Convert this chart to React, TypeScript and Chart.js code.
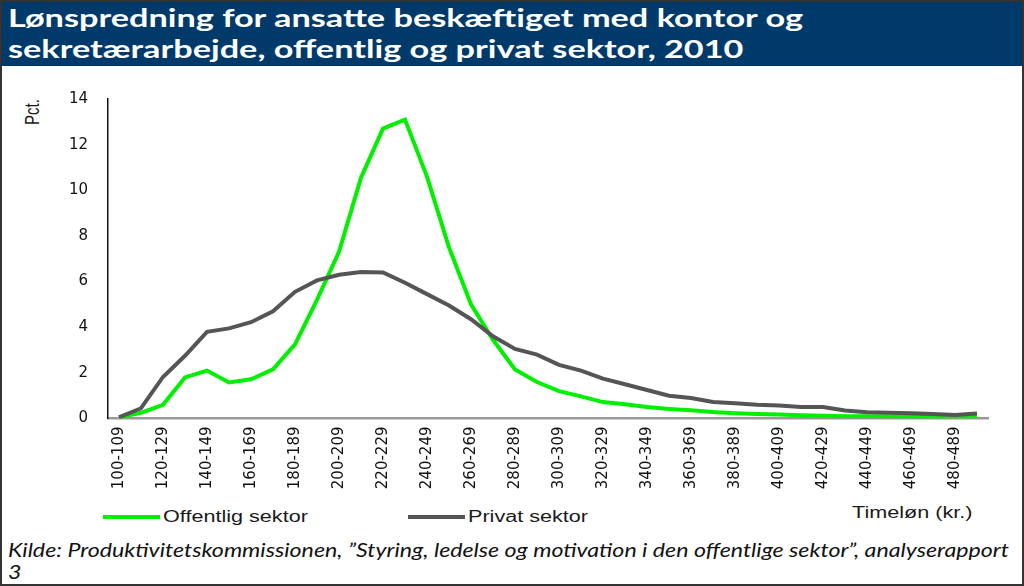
import React, { useEffect, useRef } from "react";
import { Chart, registerables } from "chart.js";

Chart.register(...registerables);

const categories: string[] = [
  "100-109", "110-119", "120-129", "130-139", "140-149", "150-159", "160-169", "170-179",
  "180-189", "190-199", "200-209", "210-219", "220-229", "230-239", "240-249", "250-259",
  "260-269", "270-279", "280-289", "290-299", "300-309", "310-319", "320-329", "330-339",
  "340-349", "350-359", "360-369", "370-379", "380-389", "390-399", "400-409", "410-419",
  "420-429", "430-439", "440-449", "450-459", "460-469", "470-479", "480-489", "490-499",
];

const offentligSektor: number[] = [
  0.05, 0.25, 0.6, 1.8, 2.1, 1.58, 1.72, 2.15, 3.25, 5.2,
  7.3, 10.55, 12.7, 13.1, 10.6, 7.5, 5.0, 3.45, 2.15, 1.6,
  1.2, 0.97, 0.72, 0.62, 0.5, 0.42, 0.36, 0.28, 0.23, 0.2,
  0.17, 0.14, 0.12, 0.1, 0.1, 0.1, 0.09, 0.09, 0.08, 0.1,
];

const privatSektor: number[] = [
  0.05, 0.45, 1.82, 2.75, 3.8, 3.95, 4.22, 4.7, 5.55, 6.05,
  6.3, 6.42, 6.4, 5.95, 5.45, 4.95, 4.35, 3.6, 3.05, 2.8,
  2.35, 2.1, 1.75, 1.5, 1.25, 1.0, 0.9, 0.72, 0.67, 0.6,
  0.57, 0.5, 0.5, 0.35, 0.27, 0.25, 0.23, 0.2, 0.15, 0.22,
];

const seriesNames: string[] = ["Offentlig sektor", "Privat sektor"];
const yTicks: number[] = [0, 2, 4, 6, 8, 10, 12, 14];

const titleLines: string[] = [
  "Lønspredning for ansatte beskæftiget med kontor og",
  "sekretærarbejde, offentlig og privat sektor, 2010",
];
const yAxisLabel = "Pct.";
const xAxisLabel = "Timeløn (kr.)";
const sourceLine1 =
  "Kilde: Produktivitetskommissionen, \u201DStyring, ledelse og motivation i den offentlige sektor\u201D, analyserapport";
const sourceLine2 = "3";

const GREEN = "#00f000";
const GRAY = "#555555";

export default function App() {
  const canvasRef = useRef<HTMLCanvasElement | null>(null);

  useEffect(() => {
    if (!canvasRef.current) return;
    const chart = new Chart(canvasRef.current, {
      type: "line",
      data: {
        labels: categories,
        datasets: [
          {
            label: seriesNames[0],
            data: offentligSektor,
            borderColor: GREEN,
            backgroundColor: GREEN,
            borderWidth: 4,
            pointRadius: 0,
            tension: 0,
            order: 1,
          },
          {
            label: seriesNames[1],
            data: privatSektor,
            borderColor: GRAY,
            backgroundColor: GRAY,
            borderWidth: 4,
            pointRadius: 0,
            tension: 0,
            order: 0,
          },
        ],
      },
      options: {
        animation: false,
        responsive: true,
        maintainAspectRatio: false,
        layout: { padding: { left: 0, right: 36, top: 16, bottom: 0 } },
        plugins: {
          legend: { display: false },
          tooltip: { enabled: false },
        },
        scales: {
          x: {
            type: "category",
            offset: true,
            grid: { display: false, drawTicks: false },
            border: { display: true, color: "#999999", width: 2.5 },
            ticks: {
              autoSkip: false,
              maxRotation: 90,
              minRotation: 90,
              padding: 8,
              color: "#111111",
              font: { family: "DejaVu Sans", size: 15 },
              callback: (_v: any, i: number) => (i % 2 === 0 ? categories[i] : ""),
            },
            afterFit: (axis: any) => {
              axis.height = 84.5;
            },
          },
          y: {
            min: yTicks[0],
            max: yTicks[yTicks.length - 1],
            grid: { display: false, drawTicks: false },
            border: { display: true, color: "#111111", width: 1.5 },
            ticks: {
              stepSize: 2,
              padding: 20,
              color: "#111111",
              font: { family: "DejaVu Sans", size: 15 },
            },
            afterFit: (axis: any) => {
              axis.width = 108;
            },
          },
        },
      },
    });
    return () => chart.destroy();
  }, []);

  const stretch: React.CSSProperties = {
    position: "absolute",
    fontFamily: "'Liberation Sans', Arial, sans-serif",
    fontSize: 16,
    color: "#1a1a1a",
    whiteSpace: "nowrap",
    transform: "scaleX(1.35)",
    transformOrigin: "left center",
    lineHeight: "18px",
  };

  return (
    <div
      style={{
        position: "absolute",
        left: 0,
        top: 0,
        width: 1024,
        height: 586,
        boxSizing: "border-box",
        border: "2px solid #333333",
        background: "#ffffff",
        overflow: "hidden",
      }}
    >
      <div
        style={{
          position: "absolute",
          left: 0,
          top: 0,
          width: "100%",
          height: 64,
          background: "#003a6b",
        }}
      >
        <div
          style={{
            position: "absolute",
            left: 6,
            top: 0,
            color: "#ffffff",
            fontFamily: "Lato, sans-serif",
            fontWeight: 700,
            fontSize: 25,
            lineHeight: "31px",
            whiteSpace: "nowrap",
            transform: "scaleX(1.37)",
            transformOrigin: "left top",
          }}
        >
          <div>{titleLines[0]}</div>
          <div>{titleLines[1]}</div>
        </div>
      </div>

      <div
        style={{
          position: "absolute",
          left: 19,
          top: 96,
          width: 20,
          height: 28,
          fontFamily: "'Liberation Sans', Arial, sans-serif",
          fontSize: 15,
          color: "#1a1a1a",
        }}
      >
        <div
          style={{
            position: "absolute",
            left: 0,
            top: 0,
            transformOrigin: "0 0",
            transform: "translate(0px, 27px) rotate(-90deg) scaleY(1.35)",
            whiteSpace: "nowrap",
            lineHeight: "16px",
          }}
        >
          {yAxisLabel}
        </div>
      </div>

      <div
        style={{ position: "absolute", left: -2, top: 67.5, width: 1024, height: 433 }}
      >
        <canvas ref={canvasRef} />
      </div>

      <div
        style={{
          position: "absolute",
          left: 101,
          top: 513,
          width: 57,
          height: 4,
          background: GREEN,
        }}
      />
      <div style={{ ...stretch, left: 161, top: 506 }}>{seriesNames[0]}</div>
      <div
        style={{
          position: "absolute",
          left: 406,
          top: 513,
          width: 57,
          height: 4,
          background: GRAY,
        }}
      />
      <div style={{ ...stretch, left: 466, top: 506 }}>{seriesNames[1]}</div>
      <div style={{ ...stretch, left: 850, top: 502 }}>{xAxisLabel}</div>

      <div
        style={{
          position: "absolute",
          left: 6,
          top: 537,
          fontFamily: "Lato, sans-serif",
          fontStyle: "italic",
          fontSize: 19,
          lineHeight: "22px",
          color: "#111111",
          whiteSpace: "nowrap",
          transform: "scaleX(1.22)",
          transformOrigin: "left top",
        }}
      >
        <div>{sourceLine1}</div>
        <div>{sourceLine2}</div>
      </div>
    </div>
  );
}
